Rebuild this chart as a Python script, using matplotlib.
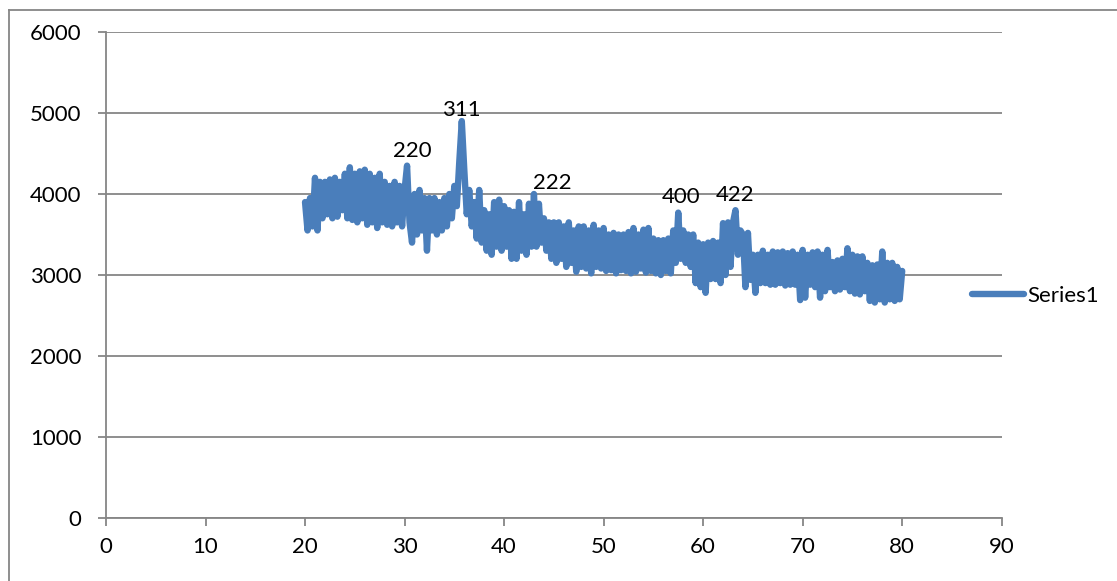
"""
XRD pattern (Excel-style line chart) with hkl peak labels.
"""
import matplotlib
matplotlib.use("Agg")
import matplotlib.pyplot as plt
from matplotlib.lines import Line2D
import numpy as np

plt.rcParams["font.family"] = ["Lato", "DejaVu Sans"]

# 2-theta grid starts at 20 deg, 0.25 deg step
TWO_THETA_START = 20.0
TWO_THETA_STEP = 0.25

# intensity (4 points per degree, 20 .. 80)
intensity = [
    3900, 3550, 3950, 3600,   # 20
    4200, 3550, 4150, 3700,   # 21
    4150, 3750, 4180, 3700,   # 22
    4200, 3720, 4150, 3800,   # 23
    4250, 3700, 4330, 3680,   # 24
    4250, 3650, 4280, 3700,   # 25
    4300, 3620, 4250, 3650,   # 26
    4200, 3580, 4250, 3650,   # 27
    4150, 3620, 4100, 3600,   # 28
    4150, 3650, 4100, 3600,   # 29
    4050, 4350, 3650, 3400,   # 30
    4000, 3500, 4050, 3550,   # 31
    3950, 3300, 3950, 3550,   # 32
    3950, 3500, 3900, 3550,   # 33
    3950, 3600, 4000, 3700,   # 34
    4100, 3850, 4400, 4900,   # 35
    4300, 3750, 4050, 3600,   # 36
    3900, 3450, 4050, 3400,   # 37
    3800, 3300, 3750, 3250,   # 38
    3900, 3350, 3930, 3300,   # 39
    3850, 3350, 3800, 3200,   # 40
    3780, 3200, 3900, 3300,   # 41
    3750, 3250, 3880, 3350,   # 42
    4000, 3350, 3880, 3400,   # 43
    3700, 3300, 3650, 3200,   # 44
    3650, 3150, 3650, 3200,   # 45
    3600, 3100, 3650, 3150,   # 46
    3550, 3040, 3600, 3100,   # 47
    3600, 3080, 3550, 3020,   # 48
    3620, 3100, 3550, 3080,   # 49
    3580, 3050, 3500, 3060,   # 50
    3520, 3020, 3500, 3060,   # 51
    3500, 3050, 3530, 3020,   # 52
    3580, 3040, 3500, 3080,   # 53
    3560, 3030, 3580, 3050,   # 54
    3450, 3020, 3430, 3000,   # 55
    3430, 3050, 3450, 3020,   # 56
    3550, 3150, 3770, 3200,   # 57
    3550, 3150, 3500, 3100,   # 58
    3500, 2900, 3400, 2850,   # 59
    3380, 2780, 3400, 2950,   # 60
    3420, 2950, 3400, 2900,   # 61
    3640, 3000, 3650, 3100,   # 62
    3650, 3800, 3250, 3550,   # 63
    3500, 2850, 3520, 2940,   # 64
    3250, 2780, 3250, 2900,   # 65
    3300, 2900, 3250, 2880,   # 66
    3290, 2880, 3280, 2900,   # 67
    3290, 2870, 3270, 2880,   # 68
    3290, 2880, 3250, 2690,   # 69
    3310, 2720, 3250, 2880,   # 70
    3280, 2850, 3290, 2720,   # 71
    3250, 2800, 3310, 2850,   # 72
    3160, 2800, 3180, 2820,   # 73
    3200, 2850, 3330, 2800,   # 74
    3250, 2770, 3230, 2760,   # 75
    3230, 2800, 3150, 2680,   # 76
    3120, 2660, 3130, 2700,   # 77
    3290, 2660, 3150, 2700,   # 78
    3150, 2680, 3100, 2700,   # 79
    3050,                     # 80
]

peak_labels = ["220", "311", "222", "400", "422"]
peak_x = [30.75, 35.67, 44.8, 57.8, 63.2]
peak_y = [4530, 5040, 4140, 3960, 3990]

x_ticks = [0, 10, 20, 30, 40, 50, 60, 70, 80, 90]
y_ticks = [0, 1000, 2000, 3000, 4000, 5000, 6000]

LINE = "#4a7ebb"
AXIS = "#868686"
W, H = 1117, 581

two_theta = TWO_THETA_START + TWO_THETA_STEP * np.arange(len(intensity))

fig = plt.figure(figsize=(W / 100, H / 100), dpi=100)
ax = fig.add_axes([106 / W, 1 - 518 / H, (1001.7 - 106) / W, (518 - 32) / H])

ax.plot(two_theta, intensity, color=LINE, linewidth=4.6,
        solid_joinstyle="round", solid_capstyle="round", label="Series1",
        zorder=3)

for lab, px, py in zip(peak_labels, peak_x, peak_y):
    ax.text(px, py, lab, ha="center", va="center", fontsize=16, color="black")

ax.set_xlim(0, 90)
ax.set_ylim(0, 6000)
ax.set_xticks(x_ticks)
ax.set_yticks(y_ticks)
ax.grid(axis="y", color=AXIS, linewidth=1.3, zorder=0)
ax.set_axisbelow(True)
for spine in ["top", "right"]:
    ax.spines[spine].set_visible(False)
for spine in ["left", "bottom"]:
    ax.spines[spine].set_color(AXIS)
    ax.spines[spine].set_linewidth(1.3)
ax.tick_params(axis="both", direction="out", length=5.8, width=1.3,
               color=AXIS, labelsize=16, labelcolor="black")
ax.tick_params(axis="y", pad=12)
ax.tick_params(axis="x", pad=8)

ax.legend(loc="center left", bbox_to_anchor=(972 / W, 1 - 296 / H),
          bbox_transform=fig.transFigure, frameon=False, fontsize=16,
          handlelength=2.36, handletextpad=0.14, borderpad=0,
          borderaxespad=0)

# chart-area border (only left and top edges fall inside the picture)
fig.add_artist(Line2D([9.5 / W, 9.5 / W], [0, 1 - 9.5 / H],
                      color=AXIS, linewidth=1.3, transform=fig.transFigure))
fig.add_artist(Line2D([9.5 / W, 1], [1 - 9.5 / H, 1 - 9.5 / H],
                      color=AXIS, linewidth=1.3, transform=fig.transFigure))

fig.savefig("out.png", dpi=100)
